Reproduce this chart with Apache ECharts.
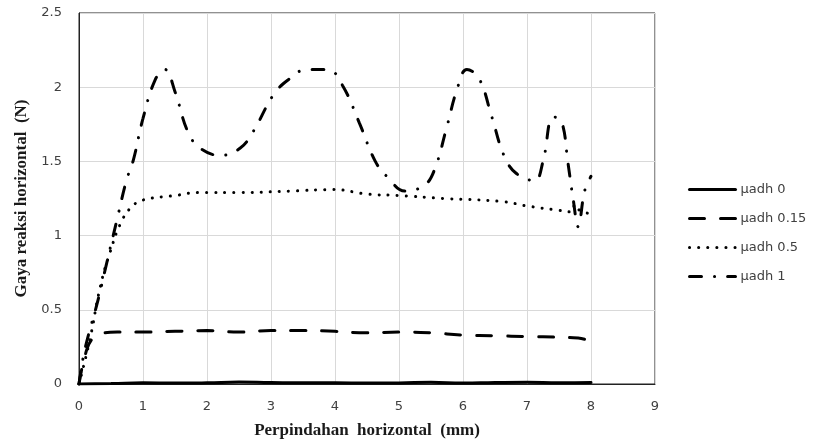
<!DOCTYPE html>
<html lang="en">
<head>
    <meta charset="UTF-8">
    <title>Gaya reaksi horizontal</title>
    <style>
        body { margin: 0; background: #fff; }
    </style>
</head>
<body>

    <div id="echarts" style="width: 813px; height: 445px"></div>
    <script src="https://cdn.jsdelivr.net/npm/echarts@6/dist/echarts.min.js"></script>
    <script>
        // legend names
        const names = ['\u00b5adh 0', '\u00b5adh 0.15', '\u00b5adh 0.5', '\u00b5adh 1'];

        // µadh 0
        const x0 = [0, 0.5, 1, 1.5, 2, 2.5, 3, 3.5, 4, 4.5, 5, 5.5, 6, 6.5, 7, 7.5, 8];
        const y0 = [0, 0.003, 0.008, 0.006, 0.008, 0.013, 0.01, 0.008, 0.008, 0.006, 0.007, 0.012, 0.006, 0.01, 0.012, 0.008, 0.01];

        // µadh 0.15
        const x15 = [0, 0.1, 0.2, 0.35, 0.6, 1, 1.5, 2, 2.5, 3, 3.5, 4, 4.5, 5, 5.5, 6, 6.5, 7, 7.5, 7.8, 8];
        const y15 = [0, 0.2, 0.3, 0.34, 0.35, 0.35, 0.355, 0.36, 0.35, 0.36, 0.36, 0.355, 0.345, 0.35, 0.345, 0.33, 0.325, 0.32, 0.315, 0.31, 0.285];

        // µadh 0.5
        const x50 = [0, 0.17, 0.33, 0.48, 0.67, 0.84, 1, 1.5, 1.9, 2.5, 3.3, 3.97, 4.5, 5, 5.7, 6.6, 7, 7.5, 7.7, 7.75, 7.85, 8];
        const y50 = [0, 0.3, 0.65, 0.88, 1.1, 1.2, 1.24, 1.27, 1.29, 1.29, 1.3, 1.31, 1.28, 1.27, 1.25, 1.23, 1.2, 1.17, 1.16, 1.21, 1.16, 1.15];

        // µadh 1
        const x100 = [0, 0.09, 0.3, 0.43, 0.59, 0.74, 0.85, 1.0, 1.19, 1.34, 1.5, 1.7, 1.89, 2.21, 2.52, 2.72, 3.04, 3.27, 3.56, 3.89, 4.12, 4.38, 4.63, 4.83, 5.09, 5.4, 5.56, 5.74, 5.91, 6.06, 6.25, 6.45, 6.64, 6.83, 7.12, 7.25, 7.41, 7.54, 7.64, 7.72, 7.8, 7.9, 8];
        const y100 = [0, 0.23, 0.57, 0.81, 1.1, 1.37, 1.51, 1.79, 2.05, 2.12, 1.97, 1.7, 1.59, 1.54, 1.59, 1.7, 1.95, 2.05, 2.12, 2.12, 2.01, 1.76, 1.5, 1.39, 1.3, 1.34, 1.45, 1.72, 1.99, 2.12, 2.06, 1.8, 1.54, 1.42, 1.37, 1.5, 1.8, 1.77, 1.49, 1.25, 1.06, 1.3, 1.4];

        const xTicks = [0, 1, 2, 3, 4, 5, 6, 7, 8, 9];
        const yTicks = [0, 0.5, 1, 1.5, 2, 2.5];

        function pairs(xs, ys) {
            return xs.map((x, i) => [x, ys[i]]);
        }

        const lineSeries = (name, data, type, smooth) => ({
            name: name,
            type: 'line',
            data: data,
            smooth: smooth,
            showSymbol: false,
            symbol: 'none',
            symbolSize: 0,
            lineStyle: { color: '#000', width: 3, type: type, cap: 'round' },
            itemStyle: { color: '#000' }
        });

        const option = {
            animation: false,
            grid: {
                left: 79, top: 13, right: 158, bottom: 61,
                show: true, borderColor: '#222', borderWidth: 1
            },
            legend: {
                orient: 'vertical',
                left: 683,
                top: 178,
                itemWidth: 46,
                itemHeight: 14,
                itemGap: 16,
                itemStyle: { opacity: 0 },
                lineStyle: { width: 3 },
                textStyle: { fontFamily: 'DejaVu Sans', fontSize: 13, color: '#404040' },
                data: names
            },
            xAxis: {
                type: 'value',
                min: 0, max: 9, interval: 1,
                name: 'Perpindahan  horizontal  (mm)',
                nameLocation: 'middle',
                nameGap: 38,
                nameTextStyle: { fontFamily: 'Liberation Serif', fontWeight: 'bold', fontSize: 17, color: '#1a1a1a' },
                axisLine: { lineStyle: { color: '#222' } },
                axisTick: { show: false },
                axisLabel: { fontFamily: 'DejaVu Sans', fontSize: 13, color: '#404040', margin: 16,
                    formatter: v => xTicks.includes(v) ? String(v) : '' },
                splitLine: { lineStyle: { color: '#d9d9d9' } }
            },
            yAxis: {
                type: 'value',
                min: 0, max: 2.5, interval: 0.5,
                name: 'Gaya reaksi horizontal  (N)',
                nameLocation: 'middle',
                nameGap: 47,
                nameTextStyle: { fontFamily: 'Liberation Serif', fontWeight: 'bold', fontSize: 17, color: '#1a1a1a' },
                axisLine: { show: true, lineStyle: { color: '#222' } },
                axisTick: { show: false },
                axisLabel: { fontFamily: 'DejaVu Sans', fontSize: 13, color: '#404040', margin: 17,
                    formatter: v => yTicks.includes(v) ? String(v) : '' },
                splitLine: { lineStyle: { color: '#d9d9d9' } }
            },
            series: [
                lineSeries(names[0], pairs(x0, y0), 'solid', true),
                lineSeries(names[1], pairs(x15, y15), [15, 16], true),
                lineSeries(names[2], pairs(x50, y50), [0.1, 9], true),
                lineSeries(names[3], pairs(x100, y100), [12, 13, 0.1, 13], 0.4)
            ]
        };

        var chartDom = document.getElementById("echarts");
        var myChart = echarts.init(chartDom);
        myChart.setOption(option);
    </script>
</body>
</html>
